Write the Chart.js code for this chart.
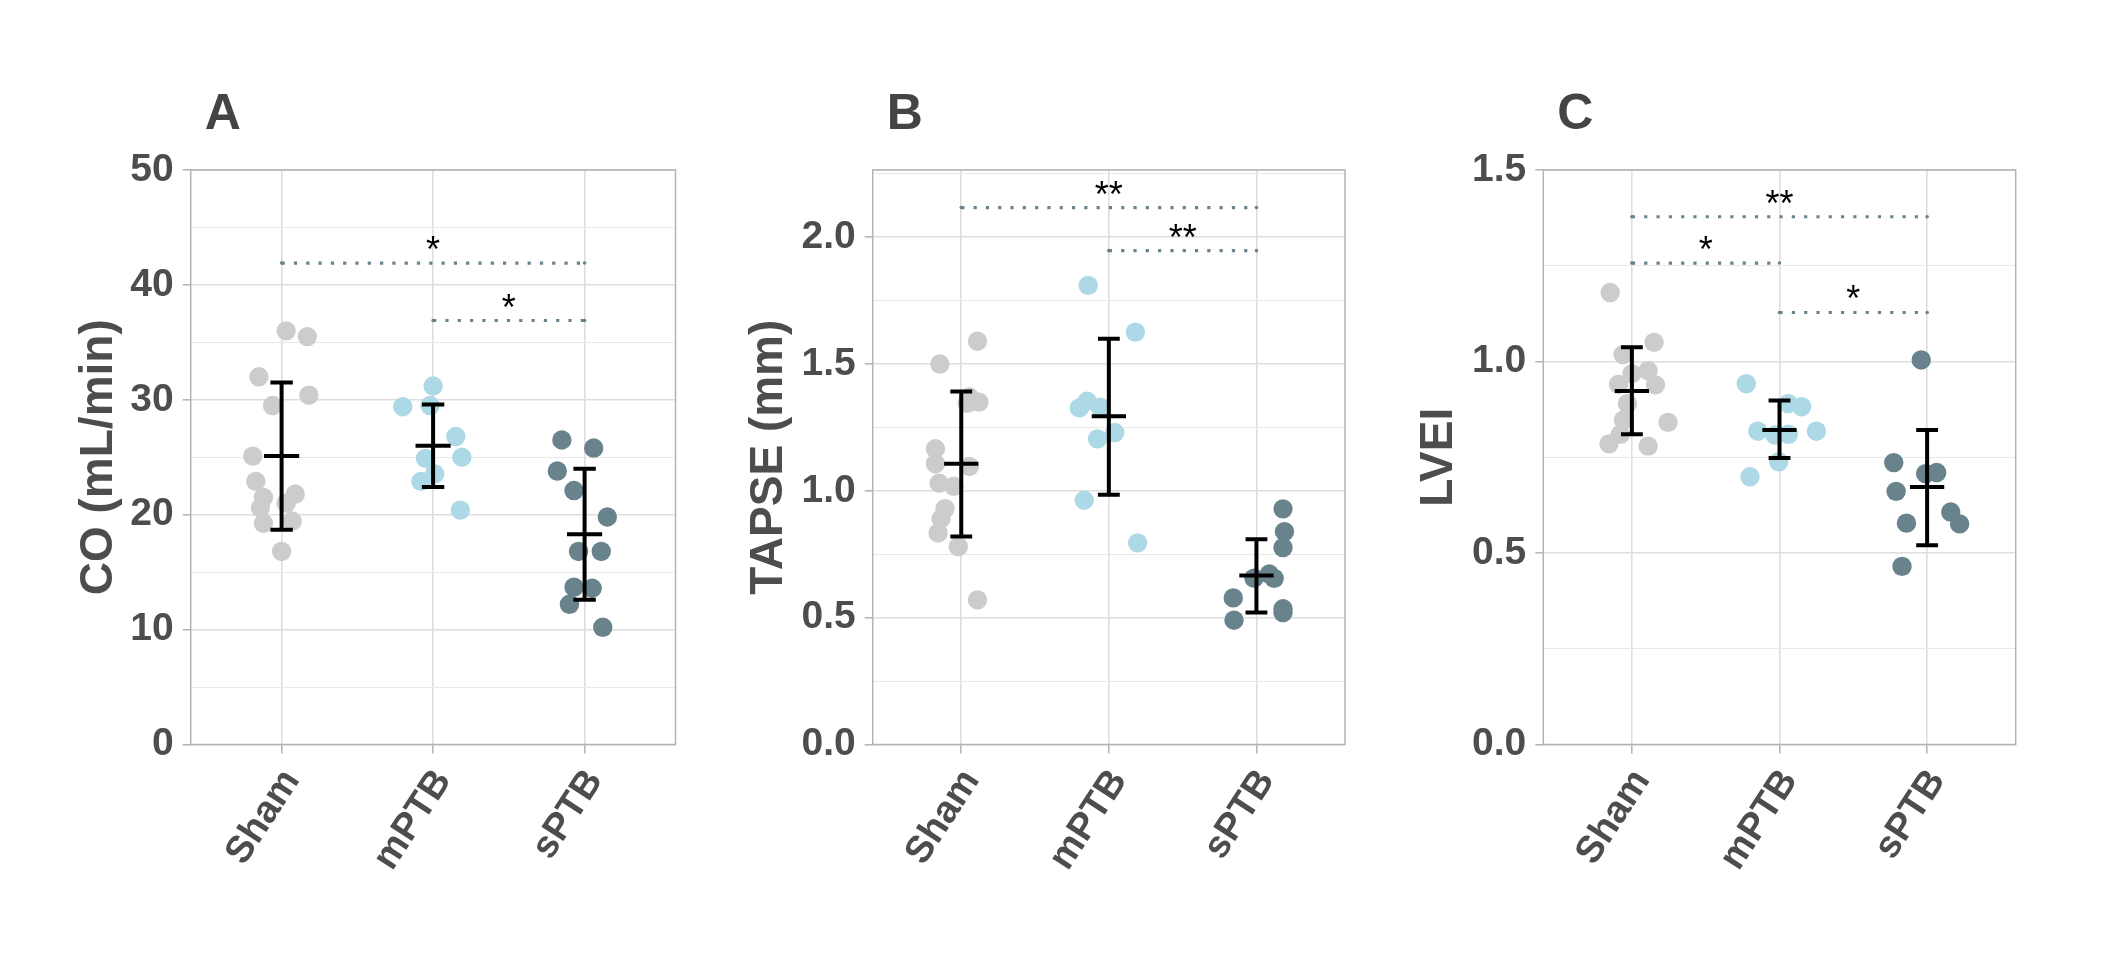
<!DOCTYPE html>
<html>
<head>
<meta charset="utf-8">
<title>CO, TAPSE and LVEI by group</title>
<script src="https://cdn.jsdelivr.net/npm/chart.js@4.4.1/dist/chart.umd.min.js"></script>
<style>
  html, body { margin: 0; padding: 0; background: #fff; }
  #wrap { position: relative; width: 2112px; height: 979px; overflow: hidden; }
  #wrap canvas { position: absolute; top: 0; }
</style>
</head>
<body>
<div id="wrap">
  <canvas id="panelA" width="700" height="979" style="left:0px"></canvas>
  <canvas id="panelB" width="680" height="979" style="left:700px"></canvas>
  <canvas id="panelC" width="732" height="979" style="left:1380px"></canvas>
</div>
<script>
// ---------- Data ----------
const groups = ['Sham', 'mPTB', 'sPTB'];

// A: cardiac output (mL/min) – values + horizontal jitter (category units)
const coSham      = [36.0, 35.5, 32.0, 29.5, 30.4, 25.1, 22.9, 21.5, 21.8, 20.6, 21.0, 19.25, 19.45, 16.8];
const coShamJit   = [0.03, 0.17, -0.15, -0.06, 0.18, -0.19, -0.17, -0.12, 0.09, -0.14, 0.03, -0.12, 0.07, 0.0];
const coMptb      = [31.2, 29.4, 29.5, 26.8, 25.0, 24.9, 23.55, 22.9, 20.4];
const coMptbJit   = [0.0, -0.2, -0.02, 0.15, 0.19, -0.05, 0.01, -0.08, 0.18];
const coSptb      = [26.5, 25.8, 23.8, 22.1, 19.8, 16.8, 16.8, 13.7, 13.6, 12.2, 10.2];
const coSptbJit   = [-0.15, 0.06, -0.18, -0.07, 0.15, -0.04, 0.11, -0.07, 0.05, -0.1, 0.12];
const coMean      = [25.1, 26.0, 18.3];
const coLow       = [18.7, 22.4, 12.6];
const coHigh      = [31.5, 29.6, 24.0];
const coSigFrom   = [1, 2];
const coSigTo     = [3, 3];
const coSigY      = [41.9, 36.9];
const coSigText   = ['*', '*'];
const coTicks     = [0, 10, 20, 30, 40, 50];
const coMinor     = [5, 15, 25, 35, 45];

// B: TAPSE (mm)
const tapseSham    = [1.59, 1.50, 1.37, 1.35, 1.345, 1.166, 1.107, 1.096, 1.03, 1.018, 0.93, 0.89, 0.834, 0.78, 0.57];
const tapseShamJit = [0.11, -0.145, 0.055, 0.12, 0.04, -0.175, -0.175, 0.055, -0.15, -0.05, -0.11, -0.137, -0.157, -0.02, 0.11];
const tapseMptb    = [1.81, 1.626, 1.327, 1.353, 1.33, 1.23, 1.205, 0.963, 0.795];
const tapseMptbJit = [-0.14, 0.18, -0.2, -0.147, -0.057, 0.04, -0.077, -0.167, 0.195];
const tapseSptb    = [0.929, 0.839, 0.776, 0.656, 0.672, 0.655, 0.578, 0.49, 0.535, 0.52];
const tapseSptbJit = [0.18, 0.19, 0.18, -0.017, 0.087, 0.12, -0.157, -0.152, 0.18, 0.18];
const tapseMean    = [1.107, 1.294, 0.666];
const tapseLow     = [0.82, 0.985, 0.52];
const tapseHigh    = [1.392, 1.60, 0.809];
const tapseSigFrom = [1, 2];
const tapseSigTo   = [3, 3];
const tapseSigY    = [2.117, 1.947];
const tapseSigText = ['**', '**'];
const tapseTicks   = [0, 0.5, 1.0, 1.5, 2.0];
const tapseMinor   = [0.25, 0.75, 1.25, 1.75, 2.25];
const tapseMax     = 2.265;

// C: LVEI
const lveiSham    = [1.18, 1.05, 1.018, 0.976, 0.968, 0.94, 0.939, 0.89, 0.847, 0.841, 0.81, 0.785, 0.779];
const lveiShamJit = [-0.147, 0.15, -0.06, 0.11, 0.0, -0.09, 0.16, -0.03, -0.057, 0.245, -0.078, -0.155, 0.11];
const lveiMptb    = [0.942, 0.89, 0.882, 0.818, 0.808, 0.81, 0.818, 0.738, 0.699];
const lveiMptbJit = [-0.225, 0.06, 0.15, -0.147, -0.03, 0.06, 0.25, -0.005, -0.2];
const lveiSptb    = [1.004, 0.736, 0.707, 0.71, 0.661, 0.607, 0.578, 0.576, 0.465];
const lveiSptbJit = [-0.04, -0.226, -0.01, 0.065, -0.21, 0.16, -0.14, 0.22, -0.17];
const lveiMean    = [0.923, 0.821, 0.672];
const lveiLow     = [0.81, 0.748, 0.52];
const lveiHigh    = [1.037, 0.898, 0.821];
const lveiSigFrom = [1, 1, 2];
const lveiSigTo   = [3, 2, 3];
const lveiSigY    = [1.378, 1.257, 1.128];
const lveiSigText = ['**', '*', '*'];
const lveiTicks   = [0, 0.5, 1.0, 1.5];
const lveiMinor   = [0.25, 0.75, 1.25];

// ---------- Look ----------
const FONT        = '"Liberation Sans", Arial, Helvetica, sans-serif';
const TEXT        = '#4D4D4D';
const GRID_MAJOR  = '#DEDEDE';
const GRID_MINOR  = '#E8E8E8';
const FRAME       = '#B3B3B3';
const COLORS      = ['#CCCCCC', '#ADD8E6', '#68838B'];
const SIG_COLOR   = '#68838B';
const POINT_R     = 9.7;
const CAP_HALF    = 0.074;   // errorbar cap half-width, category units
const MEAN_HALF   = 0.116;   // mean tick half-width
const PLOT_TOP    = 170;
const PLOT_BOTTOM = 744.5;
const CANVAS_H    = 979;
const X_ANGLE     = 57;

// ---------- Helpers ----------
function pointData(vals, jit, groupIdx) {
  return vals.map((v, i) => ({ x: groupIdx + 1 + jit[i], y: v }));
}

// mean +/- bar as one broken line (null y splits segments)
function errorBarData(mean, low, high) {
  const pts = [];
  mean.forEach((m, i) => {
    const x = i + 1;
    pts.push({ x, y: low[i] }, { x, y: high[i] }, { x, y: null });
    pts.push({ x: x - CAP_HALF, y: high[i] }, { x: x + CAP_HALF, y: high[i] }, { x, y: null });
    pts.push({ x: x - CAP_HALF, y: low[i] }, { x: x + CAP_HALF, y: low[i] }, { x, y: null });
    pts.push({ x: x - MEAN_HALF, y: m }, { x: x + MEAN_HALF, y: m }, { x, y: null });
  });
  return pts;
}

function sigLineData(from, to, y) {
  const pts = [];
  from.forEach((f, i) => {
    pts.push({ x: f, y: y[i] }, { x: to[i], y: y[i] }, { x: f, y: null });
  });
  return pts;
}

const isIn = (arr, v) => arr.some(t => Math.abs(t - v) < 1e-6);

// panel frame (all four sides, like ggplot's panel.border)
const framePlugin = {
  id: 'frame',
  beforeDatasetsDraw(chart) {
    const { ctx, chartArea: a } = chart;
    ctx.save();
    ctx.strokeStyle = FRAME;
    ctx.lineWidth = 1.5;
    ctx.strokeRect(a.left, a.top, a.right - a.left, a.bottom - a.top);
    ctx.restore();
  }
};

// significance stars + panel letter
const annotatePlugin = {
  id: 'annotate',
  afterDatasetsDraw(chart, args, opts) {
    const { ctx, chartArea: a, scales: { x, y } } = chart;
    ctx.save();
    ctx.fillStyle = '#000';
    ctx.font = `36px ${FONT}`;
    ctx.textAlign = 'center';
    ctx.textBaseline = 'alphabetic';
    opts.text.forEach((t, i) => {
      const px = x.getPixelForValue((opts.from[i] + opts.to[i]) / 2);
      const py = y.getPixelForValue(opts.y[i]);
      ctx.fillText(t, px, py - 1);
    });
    ctx.fillStyle = '#444444';
    ctx.font = `bold 50px ${FONT}`;
    ctx.textAlign = 'left';
    ctx.fillText(opts.letter, a.left + 14, a.top - 41);
    ctx.restore();
  }
};

// ---------- Panel ----------
function renderPanel(p) {
  const ctx = document.getElementById(p.canvas).getContext('2d');
  const canvasW = ctx.canvas.width;
  const allTicks = [...p.major, ...p.minor, ...(p.max > p.major[p.major.length - 1] && !isIn(p.minor, p.max) ? [p.max] : [])]
    .sort((a, b) => a - b);

  const datasets = [
    {
      type: 'line', label: 'sig',
      data: sigLineData(p.sigFrom, p.sigTo, p.sigY),
      borderColor: SIG_COLOR, borderWidth: 3.2, borderDash: [3.2, 9.1],
      pointRadius: 1.8, pointBackgroundColor: SIG_COLOR, pointBorderWidth: 0,
      spanGaps: false, order: 0
    },
    {
      type: 'line', label: 'mean ± SD',
      data: errorBarData(p.mean, p.low, p.high),
      borderColor: '#000', borderWidth: 4, borderCapStyle: 'butt',
      pointRadius: 0, spanGaps: false, order: 1
    },
    ...p.series.map((s, gi) => ({
      type: 'scatter', label: groups[gi],
      data: pointData(s[0], s[1], gi),
      backgroundColor: COLORS[gi], borderWidth: 0,
      pointRadius: POINT_R, order: 2
    }))
  ];

  new Chart(ctx, {
    data: { datasets },
    options: {
      responsive: false,
      animation: false,
      devicePixelRatio: 1,
      events: [],
      layout: { padding: { top: PLOT_TOP, right: canvasW - p.plotRight, left: 0, bottom: 0 } },
      plugins: {
        legend: { display: false },
        tooltip: { enabled: false },
        annotate: { letter: p.letter, from: p.sigFrom, to: p.sigTo, y: p.sigY, text: p.sigText }
      },
      scales: {
        x: {
          type: 'linear', min: 0.4, max: 3.6,
          afterBuildTicks: s => { s.ticks = groups.map((g, i) => ({ value: i + 1 })); },
          afterFit: s => { s.height = CANVAS_H - PLOT_BOTTOM; },
          ticks: {
            autoSkip: false, minRotation: X_ANGLE, maxRotation: X_ANGLE,
            padding: 8, labelOffset: 10,
            color: TEXT, font: { family: FONT, size: 38, weight: 'bold' },
            callback: v => groups[Math.round(v) - 1] ?? ''
          },
          grid: { color: GRID_MAJOR, lineWidth: 1.6, tickLength: 9, tickColor: FRAME, tickWidth: 1.5 },
          border: { display: false }
        },
        y: {
          type: 'linear', min: 0, max: p.max,
          afterBuildTicks: s => { s.ticks = allTicks.map(v => ({ value: v })); },
          afterFit: s => { s.width = p.plotLeft; },
          ticks: {
            padding: 9, color: TEXT, font: { family: FONT, size: 39, weight: 'bold' },
            callback: v => isIn(p.major, v) ? v.toFixed(p.decimals) : ''
          },
          grid: {
            color: c => isIn(p.major, c.tick.value) ? GRID_MAJOR : GRID_MINOR,
            lineWidth: c => isIn(p.major, c.tick.value) ? 1.6 : 1.1,
            tickLength: 8, tickWidth: 1.5,
            tickColor: c => isIn(p.major, c.tick.value) ? FRAME : 'rgba(0,0,0,0)'
          },
          border: { display: false },
          title: {
            display: true, text: p.title, color: TEXT,
            font: { family: FONT, size: 46, weight: 'bold' },
            padding: { top: p.titlePad, bottom: 0 }
          }
        }
      }
    },
    plugins: [framePlugin, annotatePlugin]
  });
}

renderPanel({
  canvas: 'panelA', letter: 'A', title: 'CO (mL/min)',
  plotLeft: 190.7, plotRight: 675.5, titlePad: 72,
  max: 50, major: coTicks, minor: coMinor, decimals: 0,
  series: [[coSham, coShamJit], [coMptb, coMptbJit], [coSptb, coSptbJit]],
  mean: coMean, low: coLow, high: coHigh,
  sigFrom: coSigFrom, sigTo: coSigTo, sigY: coSigY, sigText: coSigText
});

renderPanel({
  canvas: 'panelB', letter: 'B', title: 'TAPSE (mm)',
  plotLeft: 172.7, plotRight: 645, titlePad: 42,
  max: tapseMax, major: tapseTicks, minor: tapseMinor, decimals: 1,
  series: [[tapseSham, tapseShamJit], [tapseMptb, tapseMptbJit], [tapseSptb, tapseSptbJit]],
  mean: tapseMean, low: tapseLow, high: tapseHigh,
  sigFrom: tapseSigFrom, sigTo: tapseSigTo, sigY: tapseSigY, sigText: tapseSigText
});

renderPanel({
  canvas: 'panelC', letter: 'C', title: 'LVEI',
  plotLeft: 163.3, plotRight: 635.7, titlePad: 32,
  max: 1.5, major: lveiTicks, minor: lveiMinor, decimals: 1,
  series: [[lveiSham, lveiShamJit], [lveiMptb, lveiMptbJit], [lveiSptb, lveiSptbJit]],
  mean: lveiMean, low: lveiLow, high: lveiHigh,
  sigFrom: lveiSigFrom, sigTo: lveiSigTo, sigY: lveiSigY, sigText: lveiSigText
});
</script>
</body>
</html>
